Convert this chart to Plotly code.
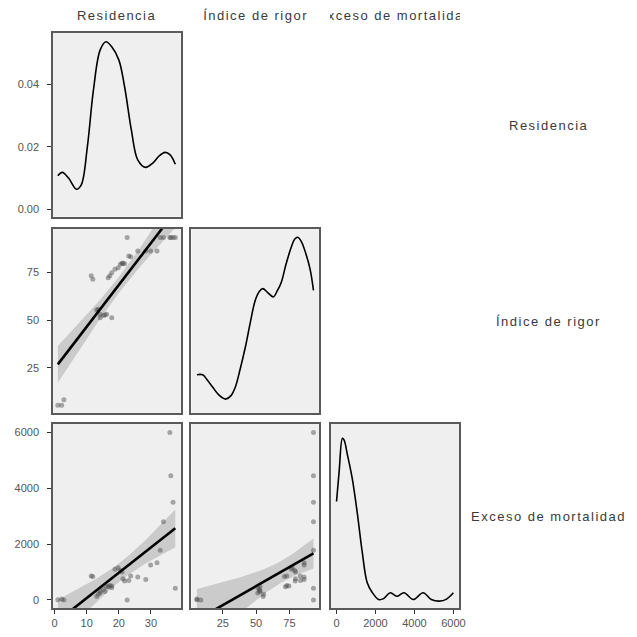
import numpy as np
import plotly.graph_objects as go

# ---------------- data ----------------
residencia = [1.0, 2.2, 2.9, 11.4, 11.9, 13.1, 13.6, 14.2, 14.2, 15.2, 15.7, 16.2,
              17.8, 16.7, 17.2, 17.8, 18.8, 19.8, 20.5, 21.3, 21.8, 21.0, 23.1, 23.7,
              25.9, 28.4, 29.9, 31.9, 22.6, 32.9, 33.9, 35.9, 36.2, 36.9, 37.6]
rigor = [5.6, 5.6, 8.5, 73.0, 71.2, 55.2, 55.6, 53.0, 51.2, 52.4, 52.6, 53.0,
         51.2, 72.0, 73.0, 74.6, 76.4, 77.2, 79.0, 79.5, 79.3, 79.5, 83.3, 83.0,
         86.0, 86.0, 86.0, 86.0, 93.0, 93.0, 93.0, 93.0, 93.0, 93.0, 93.0]
exceso = [10, 30, 0, 860, 840, 120, 200, 320, 250, 380, 300, 480,
          440, 470, 520, 500, 1100, 1150, 1050, 760, 680, 1000, 700, 860,
          820, 730, 1250, 1335, 0, 1775, 2800, 6000, 4450, 3500, 420]

# density curves
dens_res_x = [1.0, 2.4, 4.4, 6.8, 8.3, 10.2, 12.1, 14.2, 16.0, 17.8, 20.0, 21.8,
              23.9, 25.9, 28.3, 30.5, 32.5, 34.4, 36.0, 37.6]
dens_res_y = [0.0107, 0.0118, 0.0099, 0.0064, 0.0078, 0.0200, 0.0382, 0.0510, 0.0536,
              0.0520, 0.0478, 0.0392, 0.0254, 0.0158, 0.0134, 0.0147, 0.0170, 0.0182,
              0.0174, 0.0144]
dens_rig_x = [5.6, 9.9, 13.5, 17.2, 22.0, 27.1, 31.0, 34.5, 38.0, 41.9, 45.5, 49.3,
              52.5, 55.0, 58.5, 62.8, 66.0, 68.9, 72.5, 76.3, 79.0, 81.2, 84.0, 87.3,
              90.5, 93.0]
dens_rig_y = [0.0042, 0.0042, 0.0036, 0.0029, 0.0020, 0.00155, 0.0019, 0.0029, 0.0048,
              0.0072, 0.0098, 0.0123, 0.0133, 0.0136, 0.0132, 0.0127, 0.0134, 0.0143,
              0.0163, 0.0181, 0.0190, 0.0192, 0.0187, 0.0174, 0.0157, 0.0134]
dens_exc_x = [0, 137, 304, 390, 558, 811, 1065, 1318, 1572, 1825, 2163, 2417, 2755,
              3093, 3465, 3938, 4445, 4868, 5290, 5628, 6000]
dens_exc_y = [5.97, 7.68, 9.50, 9.40, 8.59, 7.23, 5.33, 3.16, 1.44, 0.90, 0.49, 0.54,
              0.87, 0.67, 0.87, 0.49, 0.87, 0.49, 0.40, 0.50, 0.87]

# axis labels / ticks
var_names = ["Residencia", "Índice de rigor", "Exceso de mortalidad"]
ticks_res = [0, 10, 20, 30]
ticks_rig = [25, 50, 75]
ticks_exc = [0, 2000, 4000, 6000]
ticks_dens = [0.00, 0.02, 0.04]
ticktext_dens = ["0.00", "0.02", "0.04"]

# ---------------- helpers ----------------
def lm_band(x, y, npts=80, t=2.035):
    x = np.asarray(x, float)
    y = np.asarray(y, float)
    b1, b0 = np.polyfit(x, y, 1)
    xs = np.linspace(x.min(), x.max(), npts)
    fit = b0 + b1 * xs
    n = len(x)
    resid = y - (b0 + b1 * x)
    s2 = np.sum(resid ** 2) / (n - 2)
    sxx = np.sum((x - x.mean()) ** 2)
    se = np.sqrt(s2 * (1.0 / n + (xs - x.mean()) ** 2 / sxx))
    return xs, fit, fit - t * se, fit + t * se

OFF = 8          # page body margin
W = 629          # figure size so that it fills the 637 window after the margin
cols = [(52.5, 181.7), (192.5, 321.7), (333.3, 463.3)]
rows = [(33.3, 216.7), (229.0, 413.3), (424.0, 608.3)]

def px_x(p):
    return (p - OFF) / W

def px_y(p):
    return 1 - (p - OFF) / W

def xdom(c):
    return [px_x(cols[c][0]), px_x(cols[c][1])]

def ydom(r):
    return [px_y(rows[r][1]), px_y(rows[r][0])]

xr = {0: [-0.5, 39.3], 1: [1.5, 97.3], 2: [-300, 6300]}
yr_rows = {1: [1.4, 97.4], 2: [-300, 6300]}

BORDER = "#5a5a5a"
BG = "#efefef"
TICKFONT = dict(family="Liberation Sans, Arial, sans-serif", size=11, color="#555555")
PTS = "rgba(70,70,70,0.45)"
BAND = "rgba(150,150,150,0.40)"

fig = go.Figure()
layout = dict(width=W, height=W, margin=dict(l=0, r=0, t=0, b=0),
              paper_bgcolor="white", plot_bgcolor=BG, showlegend=False)

# panel definitions: (index, row, col)
panels = [(1, 0, 0), (2, 1, 0), (3, 1, 1), (4, 2, 0), (5, 2, 1), (6, 2, 2)]

for idx, r, c in panels:
    sfx = "" if idx == 1 else str(idx)
    xa = dict(domain=xdom(c), range=xr[c], anchor="y" + sfx, showgrid=False,
              zeroline=False, showline=True, mirror=True, linecolor=BORDER,
              linewidth=1.5, fixedrange=True)
    if r == 0:
        yrange = [-0.00237, 0.0563]
    elif r == c:
        yrange = [0, 0.0201] if r == 1 else [0, 10.3]
    else:
        yrange = yr_rows[r]
    ya = dict(domain=ydom(r), range=yrange, anchor="x" + sfx, showgrid=False,
              zeroline=False, showline=True, mirror=True, linecolor=BORDER,
              linewidth=1.5, fixedrange=True)
    if r == 2:
        tv = [ticks_res, ticks_rig, ticks_exc][c]
        xa.update(ticks="outside", ticklen=4, tickcolor="#333", tickwidth=1,
                  tickvals=tv, tickfont=TICKFONT, ticklabelstandoff=0)
    else:
        xa.update(showticklabels=False, ticks="")
    if c == 0:
        if r == 0:
            ya.update(tickvals=ticks_dens, ticktext=ticktext_dens)
        else:
            ya.update(tickvals=[ticks_res, ticks_rig, ticks_exc][r])
        ya.update(ticks="outside", ticklen=4, tickcolor="#333", tickwidth=1,
                  tickfont=TICKFONT, ticklabelstandoff=6)
    else:
        ya.update(showticklabels=False, ticks="")
    layout["xaxis" + sfx] = xa
    layout["yaxis" + sfx] = ya

def axes(idx):
    sfx = "" if idx == 1 else str(idx)
    return dict(xaxis="x" + sfx, yaxis="y" + sfx)

data_vars = [residencia, rigor, exceso]

# diagonal densities
for idx, dx, dy in [(1, dens_res_x, dens_res_y), (3, dens_rig_x, dens_rig_y),
                    (6, dens_exc_x, dens_exc_y)]:
    fig.add_trace(go.Scatter(x=dx, y=dy, mode="lines",
                             line=dict(color="black", width=1.6, shape="spline", smoothing=1.0),
                             hoverinfo="skip", **axes(idx)))

# scatter panels with lm + CI band
for idx, xi, yi in [(2, 0, 1), (4, 0, 2), (5, 1, 2)]:
    x = data_vars[xi]
    y = data_vars[yi]
    xs, fit, lo, hi = lm_band(x, y)
    fig.add_trace(go.Scatter(x=list(xs) + list(xs[::-1]), y=list(hi) + list(lo[::-1]),
                             mode="lines", fill="toself", fillcolor=BAND,
                             line=dict(width=0), hoverinfo="skip", **axes(idx)))
    fig.add_trace(go.Scatter(x=x, y=y, mode="markers",
                             marker=dict(color=PTS, size=5, line=dict(width=0)),
                             cliponaxis=True, **axes(idx)))
    fig.add_trace(go.Scatter(x=xs, y=fit, mode="lines",
                             line=dict(color="black", width=2.6), hoverinfo="skip",
                             **axes(idx)))

# strip labels
STRIP = dict(family="Liberation Sans, Arial, sans-serif", size=13, color="#3a3a3a")
def spaced(t):
    return '<span style="letter-spacing:1.5px">' + t + '</span>'

ann = []
for c, name in enumerate(var_names):
    cx = px_x((cols[c][0] + cols[c][1]) / 2)
    ann.append(dict(text=spaced(name), x=cx, y=px_y(15), xref="paper", yref="paper",
                    showarrow=False, font=STRIP, xanchor="center", yanchor="middle",
                    width=cols[c][1] - cols[c][0], borderpad=0))
for r, name in enumerate(var_names):
    cy = px_y((rows[r][0] + rows[r][1]) / 2)
    ann.append(dict(text=spaced(name), x=px_x(554), y=cy, xref="paper", yref="paper",
                    showarrow=False, font=STRIP, xanchor="center", yanchor="middle"))
layout["annotations"] = ann

fig.update_layout(**layout)
fig.write_html("out.html")
